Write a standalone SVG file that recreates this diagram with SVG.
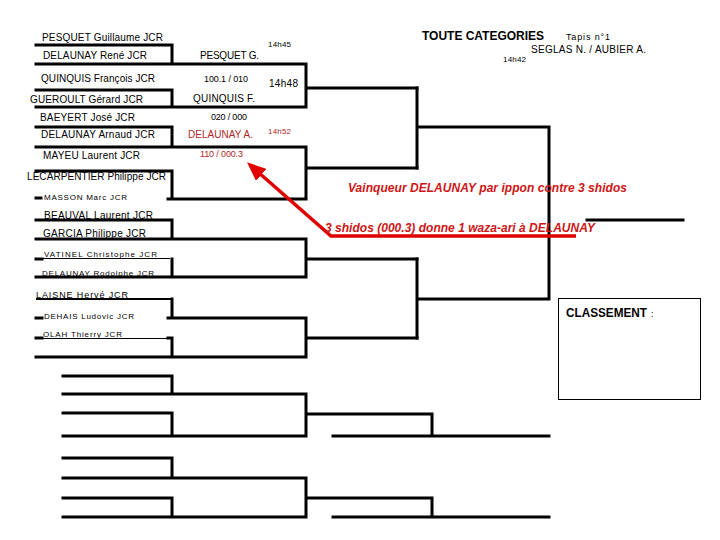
<svg xmlns="http://www.w3.org/2000/svg" width="720" height="540" viewBox="0 0 720 540">
<style>
.ln{stroke:#000;stroke-width:3;fill:none;stroke-linecap:square}
.thin{stroke:#000;stroke-width:1;fill:none}
.mid{stroke:#000;stroke-width:2;fill:none}
text{font-family:"Liberation Sans",Arial,sans-serif;fill:#000}
.n{font-size:10px}
.s{font-size:8px}
.sc{font-size:9px}
.r{fill:#b02828}
.big{font-size:12px;font-weight:bold;font-style:italic;fill:#d01515}
.b{font-weight:bold}
</style>
<defs>
<marker id="ah" markerUnits="userSpaceOnUse" markerWidth="20" markerHeight="16" refX="15" refY="8" orient="auto">
<path d="M0,0 L19,8 L0,16 Z" fill="#e00000"/>
</marker>
</defs>
<rect width="720" height="540" fill="#fff"/>
<g id="connectors">
<path class="ln" d="M36,45 H172 V64 M36,64 H306 M36,90 H172 V107 M36,107 H306 M306,64 V107 M306,88 H417"/>
<path class="ln" d="M36,127 H172 V147 M36,147 H306 M36,171 H172 V199 M168,199 H306 M36,198 H41 M306,147 V199 M306,168 H417"/>
<path class="ln" d="M36,220 H172 V239 M36,239 H306 M36,259 H42 M172,259 V277 M36,277 H306 M306,239 V277 M306,259 H417"/>
<path class="thin" d="M42,258.5 H170"/>
<path class="mid" d="M36,299 H172"/>
<path class="ln" d="M172,299 V318 M36,318 H42 M168,318 H306 M36,338 H42 M168,338 H172 V357 M36,357 H306 M306,318 V357 M306,338 H417"/>
<path class="thin" d="M42,338.5 H170"/>
<path class="ln" d="M417,88 V168 M417,127 H549 M417,259 V338 M417,299 H549 M549,127 V299 M587,220 H683"/>
<path class="ln" d="M63,376 H172 V394 M63,394 H306 M63,413 H172 V436 M63,436 H306 M306,394 V436 M306,414 H432 V436 M333,436 H549"/>
<path class="ln" d="M63,458 H172 V478 M63,478 H306 M63,498 H172 V517 M63,517 H306 M306,478 V517 M306,498 H432 V517 M333,517 H549"/>
<path d="M576,236 H331 L250,165" stroke="#e00000" stroke-width="3.5" fill="none" marker-end="url(#ah)"/>
</g>
<g id="header">
<text x="422" y="40" font-size="12" class="b" textLength="122" lengthAdjust="spacingAndGlyphs">TOUTE CATEGORIES</text>
<text x="566" y="40" class="sc" textLength="44" lengthAdjust="spacing">Tapis n°1</text>
<text x="531" y="53" class="n" textLength="115" lengthAdjust="spacing">SEGLAS N. / AUBIER A.</text>
<text x="503" y="62" class="s" textLength="23" lengthAdjust="spacing">14h42</text>
</g>
<g id="c1"><text x="42" y="41" class="n" textLength="121" lengthAdjust="spacing">PESQUET Guillaume JCR</text></g>
<g id="c2"><text x="43" y="59" class="n" textLength="104" lengthAdjust="spacing">DELAUNAY René JCR</text></g>
<g id="c3"><text x="41" y="82" class="n" textLength="114" lengthAdjust="spacing">QUINQUIS François JCR</text></g>
<g id="c4"><text x="30" y="103" class="n" textLength="113" lengthAdjust="spacing">GUEROULT Gérard JCR</text></g>
<g id="c5"><text x="40" y="121" class="n" textLength="95" lengthAdjust="spacing">BAEYERT José JCR</text></g>
<g id="c6"><text x="41" y="138" class="n" textLength="114" lengthAdjust="spacing">DELAUNAY Arnaud JCR</text></g>
<g id="c7"><text x="43" y="159" class="n" textLength="97" lengthAdjust="spacing">MAYEU Laurent  JCR</text></g>
<g id="c8"><text x="27" y="180" class="n" textLength="139" lengthAdjust="spacing">LECARPENTIER Philippe JCR</text></g>
<g id="c9"><text x="44" y="200" class="s" textLength="83" lengthAdjust="spacing">MASSON Marc JCR</text></g>
<g id="c10"><text x="44" y="219" class="n" textLength="109" lengthAdjust="spacing">BEAUVAL Laurent  JCR</text></g>
<g id="c11"><text x="43" y="237" class="n" textLength="103" lengthAdjust="spacing">GARCIA Philippe JCR</text></g>
<g id="c12"><text x="44" y="256.5" class="s" textLength="113" lengthAdjust="spacing">VATINEL Christophe JCR</text></g>
<g id="c13"><text x="42" y="276" class="s" textLength="112" lengthAdjust="spacing">DELAUNAY Rodolphe JCR</text></g>
<g id="c14"><text x="36" y="298" class="sc" textLength="92" lengthAdjust="spacing">LAISNE Hervé JCR</text></g>
<g id="c15"><text x="44" y="319" class="s" textLength="90" lengthAdjust="spacing">DEHAIS Ludovic JCR</text></g>
<g id="c16"><text x="43" y="337" class="s" textLength="79" lengthAdjust="spacing">OLAH Thierry JCR</text></g>
<g id="r1">
<text x="200" y="59" class="n" textLength="59" lengthAdjust="spacing">PESQUET G.</text>
<text x="268" y="47" class="s" textLength="23" lengthAdjust="spacing">14h45</text>
<text x="204" y="82" class="sc" textLength="44" lengthAdjust="spacing">100.1 / 010</text>
</g>
<g id="r2">
<text x="193" y="102" class="n" textLength="62" lengthAdjust="spacing">QUINQUIS F.</text>
<text x="269" y="87" class="n" textLength="29" lengthAdjust="spacing">14h48</text>
<text x="211" y="120" class="sc" textLength="36" lengthAdjust="spacing">020 / 000</text>
</g>
<g id="r3">
<text x="188" y="138" class="n r" textLength="65" lengthAdjust="spacing">DELAUNAY A.</text>
<text x="268" y="134" class="s r" textLength="23" lengthAdjust="spacing">14h52</text>
<text x="200" y="157" class="sc r" textLength="43" lengthAdjust="spacing">110 / 000.3</text>
</g>
<g id="notes">
<text x="348" y="192" class="big" textLength="279" lengthAdjust="spacing">Vainqueur DELAUNAY par ippon contre 3 shidos</text>
<text x="325" y="232" class="big" textLength="270" lengthAdjust="spacing">3 shidos (000.3) donne 1 waza-ari à DELAUNAY</text>
</g>
<g id="classement">
<rect x="558.5" y="298.5" width="142" height="101" fill="none" stroke="#000" stroke-width="1"/>
<text x="566" y="317" font-size="12" class="b" textLength="81" lengthAdjust="spacingAndGlyphs">CLASSEMENT</text>
<text x="651" y="317" font-size="9">:</text>
</g>
</svg>
